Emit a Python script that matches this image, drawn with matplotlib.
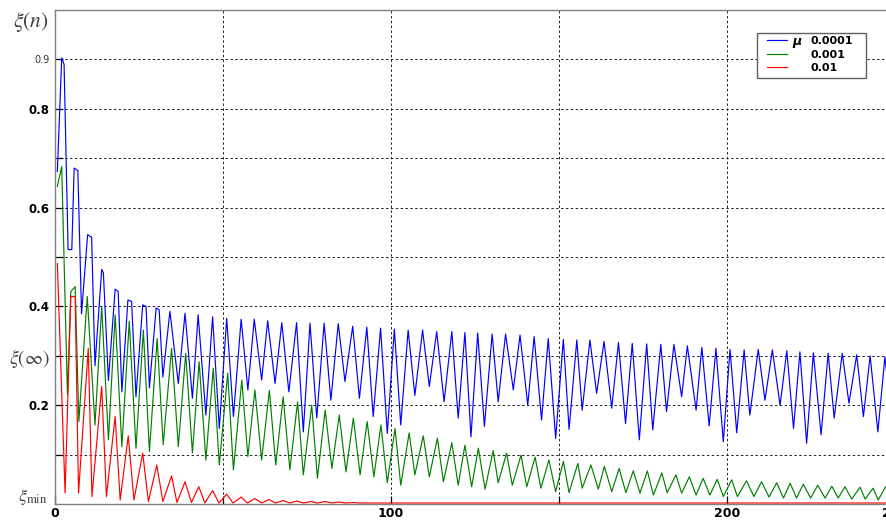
import matplotlib
matplotlib.use("Agg")
import matplotlib.pyplot as plt
from matplotlib.patches import Rectangle

plt.rcParams['mathtext.fontset'] = 'stix'
plt.rcParams['font.family'] = ['DejaVu Sans']

# ---- data ----
blue_n = [0.7, 2.0, 2.7, 3.9, 5.0, 5.7, 6.8, 7.9, 9.7, 10.9, 11.9, 13.9, 14.4, 15.9, 17.9, 18.8,
          19.9, 21.7, 22.8, 24.1, 26.1, 27.1, 28.1, 30.1, 31.0, 32.1, 34.2,
          36.7, 38.7, 40.9, 42.6, 44.9, 46.9, 48.9, 51.1, 53.1, 55.4, 57.4, 59.3, 61.5, 63.3,
          65.5, 67.5, 69.6, 71.9, 73.9, 75.9, 77.9, 80.1, 82.1, 84.3, 86.3, 88.6, 90.6, 92.8,
          94.7, 96.9, 98.9, 101.0, 102.9, 105.1, 107.1, 109.4, 111.4, 113.6, 115.8, 118.1,
          120.0, 122.0, 123.8, 125.8, 127.8, 130.1, 131.9, 134.1, 136.4, 138.4, 140.7, 142.6,
          144.8, 146.8, 149.0, 151.3, 153.0, 155.3, 156.9, 159.2, 161.2, 163.4, 165.7, 167.7,
          169.8, 171.8, 173.9, 176.1, 177.9, 180.3, 182.0, 184.2, 186.5, 188.2, 190.8, 192.5,
          194.7, 196.7, 198.9, 200.9, 202.9, 205.1, 206.8, 209.3, 211.3, 213.5, 215.8, 217.8,
          219.8, 221.7, 223.7, 225.7, 228.0, 230.1, 231.9, 234.3, 236.3, 238.6, 240.6, 242.6,
          244.9, 247.0, 249.2, 250.0]
blue_xi = [0.673, 0.903, 0.89, 0.515, 0.515, 0.68, 0.675, 0.385, 0.545, 0.54, 0.28, 0.475, 0.468, 0.25, 0.435, 0.43,
           0.227, 0.413, 0.41, 0.217, 0.403, 0.40, 0.235, 0.397, 0.393, 0.257, 0.39,
           0.244, 0.386, 0.214, 0.383, 0.18, 0.379, 0.153, 0.376, 0.177, 0.374, 0.231, 0.374, 0.251, 0.371,
           0.244, 0.367, 0.227, 0.367, 0.146, 0.366, 0.174, 0.366, 0.21, 0.365, 0.248, 0.36, 0.214, 0.358,
           0.177, 0.356, 0.143, 0.354, 0.16, 0.352, 0.22, 0.352, 0.238, 0.349, 0.207, 0.349,
           0.174, 0.347, 0.136, 0.346, 0.157, 0.344, 0.207, 0.344, 0.231, 0.342, 0.2, 0.339,
           0.17, 0.335, 0.133, 0.333, 0.151, 0.332, 0.19, 0.332, 0.224, 0.329, 0.194, 0.327,
           0.163, 0.325, 0.13, 0.324, 0.15, 0.323, 0.187, 0.323, 0.217, 0.32, 0.19, 0.317,
           0.158, 0.315, 0.126, 0.313, 0.144, 0.312, 0.18, 0.313, 0.21, 0.312, 0.2, 0.31,
           0.153, 0.308, 0.123, 0.306, 0.14, 0.305, 0.174, 0.305, 0.204, 0.302, 0.177, 0.30,
           0.146, 0.298, 0.16, 0.25]

green_n = [0.7, 2.0, 3.7, 4.7, 6.0, 7.1, 9.6, 11.9, 13.9, 15.9, 17.9, 19.9, 22.1, 24.1, 26.3, 28.1,
           30.4, 32.2, 34.7, 36.7, 38.9, 40.9, 42.9, 44.9, 47.1, 48.9, 51.4, 53.1, 55.6, 57.4,
           59.5, 61.5, 63.8, 65.7, 67.9, 69.9, 72.2, 73.9, 76.4, 78.1, 80.4, 82.4, 84.6, 86.6,
           88.8, 90.8, 92.9, 94.9, 97.0, 98.9, 101.2, 102.9, 105.4, 107.1, 109.6, 111.4, 113.8,
           115.6, 118.1, 120.0, 122.0, 124.0, 126.0, 128.0, 130.4, 131.9, 134.4, 136.1, 138.7,
           140.4, 142.9, 144.6, 147.0, 149.0, 151.3, 153.0, 155.6, 156.9, 159.5, 161.7, 163.5,
           165.7, 167.9, 169.9, 172.1, 174.1, 176.3, 178.1, 180.6, 182.2, 184.8, 186.5, 188.8,
           190.8, 192.9, 194.9, 197.1, 198.9, 201.4, 203.1, 205.8, 208.0, 210.3, 212.5, 214.8,
           216.8, 218.8, 220.7, 222.7, 224.9, 227.0, 229.2, 231.2, 233.1, 235.1, 237.1, 239.6,
           241.1, 243.5, 245.0, 247.2, 249.3]
green_xi = [0.643, 0.683, 0.222, 0.43, 0.44, 0.167, 0.42, 0.16, 0.40, 0.13, 0.383, 0.116, 0.37, 0.113, 0.352, 0.106,
            0.335, 0.12, 0.315, 0.116, 0.305, 0.103, 0.288, 0.089, 0.275, 0.079, 0.265, 0.069, 0.251, 0.096,
            0.231, 0.089, 0.23, 0.079, 0.217, 0.069, 0.207, 0.059, 0.2, 0.052, 0.19, 0.072, 0.18, 0.065,
            0.174, 0.059, 0.167, 0.055, 0.16, 0.043, 0.153, 0.038, 0.144, 0.059, 0.138, 0.055, 0.133,
            0.045, 0.124, 0.038, 0.119, 0.035, 0.113, 0.03, 0.108, 0.043, 0.103, 0.038, 0.099,
            0.035, 0.095, 0.032, 0.089, 0.025, 0.086, 0.023, 0.082, 0.032, 0.079, 0.03, 0.076,
            0.025, 0.072, 0.023, 0.067, 0.022, 0.067, 0.018, 0.063, 0.023, 0.059, 0.022, 0.055,
            0.018, 0.052, 0.018, 0.05, 0.015, 0.049, 0.015, 0.047, 0.015, 0.045, 0.014, 0.043,
            0.012, 0.042, 0.012, 0.04, 0.012, 0.038, 0.012, 0.036, 0.012, 0.035, 0.01, 0.034,
            0.01, 0.032, 0.008, 0.035, 0.01]

red_n = [0.7, 3.0, 4.7, 6.0, 7.0, 9.9, 11.0, 13.9, 15.3, 17.9, 19.4, 21.8, 23.5, 26.1, 27.8,
         30.3, 32.1, 34.7, 36.3, 38.7, 40.6, 42.8, 44.6, 46.9, 48.8, 51.1, 53.0, 55.4, 57.3,
         59.5, 61.5, 63.7, 65.6, 67.9, 69.9, 72.0, 74.0, 76.2, 78.1, 80.4, 82.3, 84.5, 86.5,
         88.7, 90.5, 250.0]
red_xi = [0.487, 0.022, 0.42, 0.42, 0.022, 0.315, 0.015, 0.238, 0.015, 0.177, 0.008, 0.138, 0.008, 0.103, 0.005,
          0.079, 0.005, 0.057, 0.003, 0.045, 0.003, 0.035, 0.002, 0.027, 0.002, 0.02, 0.002, 0.014, 0.002,
          0.011, 0.002, 0.009, 0.002, 0.007, 0.002, 0.006, 0.002, 0.005, 0.002, 0.005, 0.002, 0.004, 0.002,
          0.003, 0.002, 0.002]

legend_labels = ['0.0001', '0.001', '0.01']
ytick_vals = [0.1, 0.2, 0.3, 0.4, 0.5, 0.6, 0.7, 0.8, 0.9]
ytick_text = ['', '0.2', r'$\xi(\infty)$', '0.4', '', '0.6', '', '0.8', '0.9']
xtick_vals = [0, 50, 100, 150, 200, 250]
xtick_text = ['0', '', '100', '', '200', '250']

# ---- figure ----
W, H = 886, 521
fig = plt.figure(figsize=(W / 100, H / 100), dpi=100)
ax = fig.add_axes([55 / W, 17 / H, 840 / W, 494 / H])
ax.set_xlim(0, 250)
ax.set_ylim(0, 1.0)

l1, = ax.plot(blue_n, blue_xi, color='#0000ff', lw=0.85)
l2, = ax.plot(green_n, green_xi, color='#008000', lw=0.85)
l3, = ax.plot(red_n, red_xi, color='#ff0000', lw=0.85)

for s in ['left', 'top', 'bottom']:
    ax.spines[s].set_color('#808080')
    ax.spines[s].set_linewidth(1.0)
ax.spines['right'].set_visible(False)

ax.set_yticks(ytick_vals)
ax.set_yticklabels(ytick_text)
ax.set_xticks(xtick_vals)
ax.set_xticklabels(xtick_text)
ax.grid(True, color='#202020', linestyle=(0, (2.5, 2.5)), linewidth=0.7)
ax.tick_params(axis='both', direction='in', length=6, width=0.9, color='black')
ax.tick_params(axis='y', pad=4)
ax.tick_params(axis='x', pad=2)

for lab, txt in zip(ax.get_yticklabels(), ytick_text):
    if txt == '0.9':
        lab.set_fontsize(7)
        lab.set_color('#333333')
    elif txt.startswith('$'):
        lab.set_fontsize(14)
        lab.set_color('#404040')
    else:
        lab.set_fontsize(8.5)
        lab.set_fontweight('bold')
for lab in ax.get_xticklabels():
    lab.set_fontsize(9)
    lab.set_fontweight('bold')

fig.text(31 / W, 1 - 22 / H, r'$\xi(n)$', fontsize=15.5, color='#404040', ha='center', va='center')
fig.text(48 / W, 1 - 497 / H, r'$\xi_{\mathrm{min}}$', fontsize=13, color='#404040', ha='right', va='center')

# legend frame drawn as a box, legend entries on top
box = Rectangle((757 / W, 1 - 78 / H), 109 / W, 45 / H, transform=fig.transFigure,
                facecolor='white', edgecolor='#606060', linewidth=1.0, zorder=4)
fig.add_artist(box)
leg = fig.legend([l1, l2, l3], legend_labels, loc='upper left',
                 bbox_to_anchor=(765 / W, 1 - 34 / H), bbox_transform=fig.transFigure,
                 borderaxespad=0, frameon=False,
                 prop={'weight': 'bold', 'size': 8}, handlelength=1.8, handletextpad=2.1,
                 labelspacing=0.3, borderpad=0.2)
leg.set_zorder(5)
fig.text(797 / W, 1 - 42 / H, 'μ', fontsize=9, fontweight='bold', fontstyle='italic',
         ha='center', va='center', zorder=6)

fig.savefig('out.png', dpi=100)
